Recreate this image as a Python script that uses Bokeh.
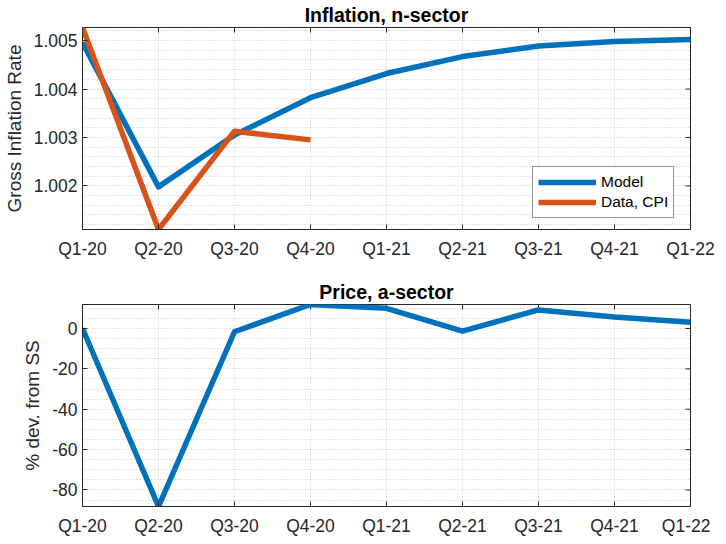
import math
from bokeh.plotting import figure
from bokeh.layouts import column
from bokeh.models import Range1d, FixedTicker, PrintfTickFormatter
from bokeh.embed import file_html
from bokeh.resources import INLINE

# ---- data ----
quarters = ["Q1-20", "Q2-20", "Q3-20", "Q4-20", "Q1-21", "Q2-21", "Q3-21", "Q4-21", "Q1-22"]
model_inflation = [1.00496, 1.00198, 1.00305, 1.00382, 1.00432, 1.00467, 1.00489, 1.00498, 1.00502]
cpi_inflation = [1.00527, 1.00110, 1.00313, 1.00295]
price_a_sector = [0.0, -88.2, -1.6, 11.9, 10.0, -1.3, 9.2, 5.7, 3.1]

top_yticks = [1.002, 1.003, 1.004, 1.005]
top_yminor = [1.0012, 1.0014, 1.0016, 1.0018, 1.0022, 1.0024, 1.0026, 1.0028,
              1.0032, 1.0034, 1.0036, 1.0038, 1.0042, 1.0044, 1.0046, 1.0048,
              1.0052]
bot_yticks = [-80, -60, -40, -20, 0]
bot_yminor = [-85, -75, -70, -65, -55, -50, -45, -35, -30, -25, -15, -10, -5, 5, 10]

BLUE = "#0072BD"
ORANGE = "#D95319"
AX = "#262626"
GRID = "#c8c8c8"
FONT = "Liberation Sans"
xs = list(range(len(quarters)))


def make_fig(title, ylabel, yr, yticks, yminor, fmt, frame_h, min_top, min_bottom):
    p = figure(frame_width=608, frame_height=frame_h,
               min_border_left=76, min_border_right=26,
               min_border_top=min_top, min_border_bottom=min_bottom,
               x_range=Range1d(0, len(quarters) - 1), y_range=Range1d(*yr),
               output_backend="svg", toolbar_location=None, title=title)
    p.title.text_font = FONT
    p.title.text_font_size = "19.5px"
    p.title.text_font_style = "bold"
    p.title.text_color = "#000000"
    p.title.align = "center"
    p.title.standoff = 3
    p.outline_line_color = AX
    p.outline_line_width = 1
    p.background_fill_color = "white"
    p.border_fill_color = "white"

    p.xaxis.ticker = FixedTicker(ticks=xs)
    p.xaxis.major_label_overrides = {i: q for i, q in enumerate(quarters)}
    p.yaxis.ticker = FixedTicker(ticks=yticks, minor_ticks=yminor)
    p.yaxis.formatter = PrintfTickFormatter(format=fmt)
    p.yaxis.axis_label = ylabel
    for ax in (p.xaxis[0], p.yaxis[0]):
        ax.axis_line_color = AX
        ax.major_tick_in = 5
        ax.major_tick_out = 0
        ax.minor_tick_in = 0
        ax.minor_tick_out = 0
        ax.major_tick_line_color = AX
        ax.major_label_text_font = FONT
        ax.major_label_text_font_size = "17.5px"
        ax.major_label_text_color = AX
        ax.axis_label_text_font = FONT
        ax.axis_label_text_font_size = "19px"
        ax.axis_label_text_font_style = "normal"
        ax.axis_label_text_color = AX
    p.xaxis.major_label_standoff = 9
    p.yaxis.major_label_standoff = 5
    p.yaxis.axis_label_standoff = 6

    # inward tick marks on the right and top edges of the box (half clipped by frame)
    p.scatter([xs[-1]] * len(yticks), yticks, marker="dash", size=10,
              line_color=AX, line_width=1)
    p.scatter(xs, [yr[1]] * len(xs), marker="dash", size=10, angle=math.pi / 2,
              line_color=AX, line_width=1)

    p.xgrid.grid_line_color = GRID
    p.xgrid.grid_line_dash = "1 2"
    p.ygrid.grid_line_color = GRID
    p.ygrid.grid_line_dash = "1 2"
    p.ygrid.minor_grid_line_color = GRID
    p.ygrid.minor_grid_line_dash = "1 2"
    return p


p1 = make_fig("Inflation, n-sector", "Gross Inflation Rate", (1.0011, 1.00527),
              top_yticks, top_yminor, "%.3f", 202, 24, 48)
p1.line(xs, model_inflation, line_color=BLUE, line_width=5.5, line_join="round",
        legend_label="Model")
p1.line(xs[:len(cpi_inflation)], cpi_inflation, line_color=ORANGE, line_width=5.5,
        line_join="round", legend_label="Data, CPI")
lg = p1.legend[0]
lg.location = (450, 11)
lg.margin = 0
lg.padding = 5
lg.spacing = 0
lg.glyph_width = 58
lg.glyph_height = 20
lg.label_standoff = 5
lg.label_text_font = FONT
lg.label_text_font_size = "15.5px"
lg.label_text_color = "#000000"
lg.border_line_color = AX
lg.border_line_width = 1
lg.background_fill_alpha = 1

p2 = make_fig("Price, a-sector", "% dev. from SS", (-88.2, 11.9),
              bot_yticks, bot_yminor, "%d", 202, 24, 28)
p2.line(xs, price_a_sector, line_color=BLUE, line_width=5.5, line_join="round")

layout = column(p1, p2, spacing=0)
open("out.html", "w").write(file_html(layout, INLINE))
